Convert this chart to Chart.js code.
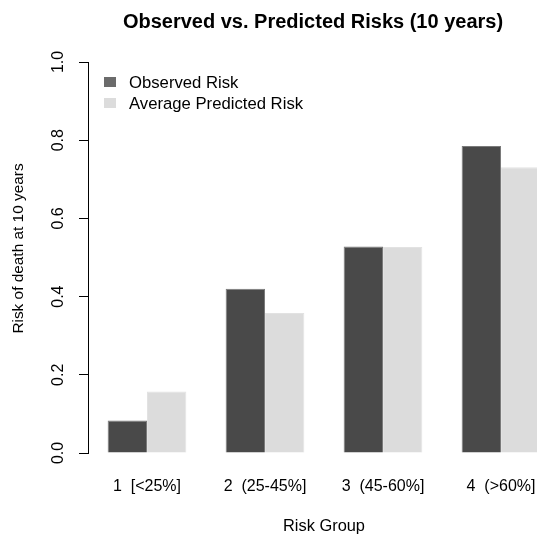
<!DOCTYPE html>
<html>
<head>
<meta charset="utf-8">
<script src="https://cdn.jsdelivr.net/npm/chart.js@4"></script>
<style>
  html, body { margin: 0; padding: 0; background: #fff; overflow: hidden; }
  #wrap { width: 560px; height: 536px; }
</style>
</head>
<body>
<div id="wrap"><canvas id="cv" width="560" height="536"></canvas></div>
<script>
// data
var groups = ['1  [<25%]', '2  (25-45%]', '3  (45-60%]', '4  (>60%]'];
var observed = [0.083, 0.420, 0.528, 0.785];
var predicted = [0.157, 0.358, 0.527, 0.731];
var seriesNames = ['Observed Risk', 'Average Predicted Risk'];
var yTicks = [0, 0.2, 0.4, 0.6, 0.8, 1.0];

var FONT = '"Liberation Sans", Arial, sans-serif';

// axis tick labels (rotated, like base R), y title, legend and title
var extras = {
  id: 'extras',
  afterDraw: function (chart) {
    var ctx = chart.ctx, y = chart.scales.y, a = chart.chartArea;
    ctx.save();
    ctx.fillStyle = '#000';
    ctx.font = '16px ' + FONT;
    ctx.textAlign = 'center';
    ctx.textBaseline = 'middle';
    yTicks.forEach(function (v) {
      ctx.save();
      ctx.translate(a.left - 29, y.getPixelForValue(v));
      ctx.rotate(-Math.PI / 2);
      ctx.fillText(v.toFixed(1), 0, 0);
      ctx.restore();
    });

    // y title
    ctx.save();
    ctx.font = '15.4px ' + FONT;
    ctx.translate(19, (a.top + a.bottom) / 2 - 9);
    ctx.rotate(-Math.PI / 2);
    ctx.fillText('Risk of death at 10 years', 0, 0);
    ctx.restore();

    // legend
    var boxCols = ['#6b6b6b', '#dcdcdc'];
    ctx.font = '16.7px ' + FONT;
    ctx.textAlign = 'left';
    seriesNames.forEach(function (name, i) {
      var ly = 82 + i * 21;
      ctx.fillStyle = boxCols[i];
      ctx.fillRect(a.left + 16, ly - 5, 12, 10);
      ctx.fillStyle = '#000';
      ctx.fillText(name, a.left + 41, ly + 1);
    });

    // title
    ctx.font = 'bold 20px ' + FONT;
    ctx.textAlign = 'center';
    ctx.fillText('Observed vs. Predicted Risks (10 years)', 313, 22);
    ctx.restore();
  }
};

new Chart(document.getElementById('cv'), {
  type: 'bar',
  data: {
    labels: groups,
    datasets: [
      {
        label: seriesNames[0],
        data: observed,
        backgroundColor: '#494949',
        borderColor: '#7a7a7a',
        borderWidth: 1,
        categoryPercentage: 0.667,
        barPercentage: 1.0
      },
      {
        label: seriesNames[1],
        data: predicted,
        backgroundColor: '#dcdcdc',
        borderColor: '#e2e2e2',
        borderWidth: 1,
        categoryPercentage: 0.667,
        barPercentage: 1.0
      }
    ]
  },
  options: {
    responsive: false,
    animation: false,
    devicePixelRatio: 1,
    layout: { padding: { top: 62, left: 0, right: 0, bottom: 0 } },
    plugins: {
      legend: { display: false },
      title: { display: false },
      tooltip: { enabled: false }
    },
    scales: {
      x: {
        grid: { display: false, drawTicks: false },
        border: { display: false },
        ticks: { color: '#000', font: { family: FONT, size: 16 }, padding: 24, maxRotation: 0, autoSkip: false },
        title: { display: true, text: 'Risk Group', color: '#000', font: { family: FONT, size: 16.4 }, padding: { top: 0, bottom: 0 } },
        afterFit: function (s) { s.height = 83; }
      },
      y: {
        min: 0,
        max: 1,
        ticks: { stepSize: 0.2, display: false },
        grid: { drawOnChartArea: false, drawTicks: true, tickLength: 9, color: '#000', lineWidth: 1 },
        border: { display: true, color: '#000', width: 1 },
        title: { display: false },
        afterFit: function (s) { s.width = 88; }
      }
    }
  },
  plugins: [extras]
});
</script>
</body>
</html>
